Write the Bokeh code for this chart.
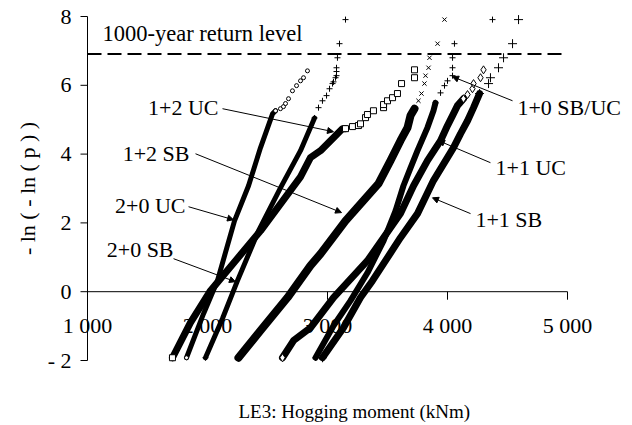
import math
from bokeh.plotting import figure
from bokeh.models import Range1d, Arrow, NormalHead, Label
from bokeh.embed import file_html
from bokeh.resources import INLINE

# ---------------- data ----------------
x_ticks = [1000, 2000, 3000, 4000, 5000]
x_tick_labels = ["1 000", "2 000", "3 000", "4 000", "5 000"]
y_ticks = [-2, 0, 2, 4, 6, 8]
y_tick_labels = ["- 2", "0", "2", "4", "6", "8"]
return_level_1000 = 6.907

# 2+0 UC (circles)
uc20_dense_x = [1825, 1967, 2083, 2225, 2342, 2442, 2542]
uc20_dense_y = [-1.92, -0.64, 0.32, 2.06, 3.08, 4.19, 5.17]
uc20_tail_x = [2567, 2608, 2633, 2650, 2675, 2708, 2742, 2775, 2800, 2833]
uc20_tail_y = [5.26, 5.32, 5.38, 5.47, 5.61, 5.84, 5.99, 6.13, 6.22, 6.42]

# 2+0 SB (small plus)
sb20_dense_x = [1983, 2125, 2250, 2425, 2608, 2775, 2858]
sb20_dense_y = [-1.92, -0.78, 0.32, 1.77, 3.02, 4.10, 4.77]
sb20_tail_x = [2892, 2925, 2958, 2992, 3017, 3042, 3050, 3067, 3075, 3075, 3075, 3083, 3100, 3150]
sb20_tail_y = [5.05, 5.35, 5.55, 5.70, 5.90, 6.05, 6.10, 6.22, 6.28, 6.40, 6.51, 6.80, 7.21, 7.91]

# 1+2 UC (squares)
uc12_dense_x = [1708, 1858, 2025, 2442, 2775, 2858, 2942, 3025, 3083, 3125]
uc12_dense_y = [-1.92, -0.90, 0.03, 1.77, 3.34, 3.90, 4.10, 4.39, 4.59, 4.74]
uc12_tail_x = [3150, 3208, 3258, 3275, 3317, 3333, 3383, 3467, 3467, 3500, 3542, 3583, 3617, 3725, 3725]
uc12_tail_y = [4.74, 4.80, 4.83, 4.88, 5.06, 5.15, 5.26, 5.35, 5.44, 5.55, 5.64, 5.76, 6.05, 6.22, 6.45]

# 1+2 SB (x)
sb12_dense_x = [2258, 2442, 2667, 2858, 2942, 3150, 3425, 3525, 3608, 3667, 3692]
sb12_dense_y = [-1.92, -1.13, -0.17, 0.76, 1.10, 2.06, 3.14, 3.81, 4.39, 4.77, 5.12]
sb12_tail_x = [3725, 3758, 3783, 3808, 3817, 3842, 3850, 3917, 3975]
sb12_tail_y = [5.32, 5.55, 5.76, 6.05, 6.28, 6.51, 6.80, 7.21, 7.91]

# 1+1 UC (diamonds)
uc11_dense_x = [2625, 2717, 2858, 3050, 3333, 3467, 3608, 3717, 3833, 3942, 4000, 4042, 4083]
uc11_dense_y = [-1.92, -1.42, -1.05, -0.17, 0.90, 1.57, 2.27, 3.08, 3.81, 4.39, 4.83, 5.12, 5.41]
uc11_tail_x = [4133, 4167, 4208, 4217, 4275, 4300]
uc11_tail_y = [5.61, 5.73, 5.90, 6.05, 6.22, 6.45]

# 1+0 SB/UC (small plus)
s10_dense_x = [2900, 3050, 3192, 3333, 3467, 3567, 3633, 3692, 3750, 3833, 3883]
s10_dense_y = [-1.92, -0.99, -0.26, 0.55, 1.48, 2.35, 3.08, 3.60, 4.10, 4.77, 5.26]
s10_tail_x = [3900, 3942, 3975, 4000, 4042, 4042, 4042, 4058, 4375]
s10_tail_y = [5.49, 5.78, 5.99, 6.13, 6.28, 6.51, 6.80, 7.21, 7.91]

# 1+1 SB (large plus)
sb11_dense_x = [2958, 3133, 3275, 3375, 3500, 3608, 3750, 3883, 4050, 4108, 4167, 4217]
sb11_dense_y = [-1.92, -1.05, -0.17, 0.32, 0.99, 1.57, 2.27, 3.23, 4.19, 4.59, 4.97, 5.35]
sb11_tail_x = [4267, 4342, 4358, 4425, 4467, 4542, 4592]
sb11_tail_y = [5.76, 6.05, 6.22, 6.51, 6.80, 7.21, 7.91]

# annotation labels: text, label anchor, leader start, arrow tip, alignment
label_texts = ["1+2 UC", "1+2 SB", "2+0 UC", "2+0 SB", "1+0 SB/UC", "1+1 UC", "1+1 SB"]
label_pos = [(2092, 5.35), (1850, 4.01), (1817, 2.50), (1717, 1.22), (4583, 5.35), (4400, 3.60), (4233, 2.09)]
leader_start = [(2125, 5.32), (1900, 4.01), (1842, 2.47), (1717, 0.96), (4542, 5.55), (4358, 3.75), (4192, 2.27)]
leader_end = [(3050, 4.65), (3117, 2.30), (2217, 2.09), (2233, 0.29), (4042, 6.25), (3925, 4.39), (3875, 2.73)]
label_align = ["right", "right", "right", "right", "left", "left", "left"]

# ---------------- layout geometry (pixels) ----------------
W, H = 632, 425
AX_LEFT, AX_RIGHT = 87, 567      # pixel of x = 1000 / 5000
AX_TOP, AX_BOTTOM = 16, 360      # pixel of y = 8 / -2
xmin, xmax = x_ticks[0], x_ticks[-1]
ymin, ymax = y_ticks[0], y_ticks[-1]
ppx = (AX_RIGHT - AX_LEFT) / (xmax - xmin)
ppy = (AX_BOTTOM - AX_TOP) / (ymax - ymin)
xr = Range1d(xmin - AX_LEFT / ppx, xmax + (W - AX_RIGHT) / ppx)
yr = Range1d(ymin - (H - AX_BOTTOM) / ppy, ymax + AX_TOP / ppy)

FONT = "Liberation Serif"
p = figure(width=W, height=H, x_range=xr, y_range=yr,
           x_axis_type=None, y_axis_type=None,
           output_backend="svg", toolbar_location=None,
           min_border_left=0, min_border_right=0, min_border_top=0, min_border_bottom=0)
p.outline_line_color = None
p.grid.visible = False

# ---------------- axes drawn by hand ----------------
# y axis
p.segment(x0=[xmin], y0=[ymin], x1=[xmin], y1=[ymax], line_color="black", line_width=1)
p.ray(x=[xmin] * len(y_ticks), y=y_ticks, length=7, length_units="screen", angle=math.pi,
      line_color="black", line_width=1)
p.text(x=[xmin] * len(y_ticks), y=y_ticks, text=y_tick_labels, x_offset=-16,
       text_align="right", text_baseline="middle", text_font={"value": FONT},
       text_font_size="22px", text_color="black")
# x axis at y = 0
p.segment(x0=[xmin], y0=[0], x1=[xmax], y1=[0], line_color="black", line_width=1)
p.ray(x=x_ticks, y=[0] * len(x_ticks), length=8, length_units="screen", angle=-math.pi / 2,
      line_color="black", line_width=1)
p.text(x=x_ticks, y=[0] * len(x_ticks), text=x_tick_labels, y_offset=34,
       text_align="center", text_baseline="middle", text_font={"value": FONT},
       text_font_size="22px", text_color="black")

# axis titles
p.add_layout(Label(x=xmin - 60 / ppx, y=(ymin + ymax) / 2, text="- ln ( - ln ( p ) )",
                   angle=math.pi / 2, text_align="center", text_baseline="middle",
                   text_font=FONT, text_font_size="22px", text_color="black"))
p.add_layout(Label(x=xmin + 151 / ppx, y=ymin - 51 / ppy, text="LE3: Hogging moment (kNm)",
                   text_align="left", text_baseline="middle",
                   text_font=FONT, text_font_size="19px", text_color="black"))

# ---------------- data series ----------------
series = [
    (uc20_dense_x, uc20_dense_y, uc20_tail_x, uc20_tail_y, "circle", 4, 5),
    (sb20_dense_x, sb20_dense_y, sb20_tail_x, sb20_tail_y, "cross", 6, 5),
    (uc12_dense_x, uc12_dense_y, uc12_tail_x, uc12_tail_y, "square", 6, 7),
    (sb12_dense_x, sb12_dense_y, sb12_tail_x, sb12_tail_y, "x", 6, 8),
    (uc11_dense_x, uc11_dense_y, uc11_tail_x, uc11_tail_y, "diamond", 8, 7),
    (s10_dense_x, s10_dense_y, s10_tail_x, s10_tail_y, "cross", 6, 6),
    (sb11_dense_x, sb11_dense_y, sb11_tail_x, sb11_tail_y, "cross", 9, 7),
]
for dx, dy, tx, ty, marker, msize, lw in series:
    p.line(dx + tx[:1], dy + ty[:1], line_width=lw, line_color="black",
           line_join="round", line_cap="round")
    p.scatter(dx[:1] + tx, dy[:1] + ty, marker=marker, size=msize,
              fill_color="white", line_color="black", line_width=1)

# 1000-year return level
p.segment(x0=[xmin], y0=[return_level_1000], x1=[xmax], y1=[return_level_1000],
          line_color="black", line_width=2, line_dash="14 6")
p.add_layout(Label(x=xmin + 15 / ppx, y=7.50, text="1000-year return level", text_baseline="middle",
                   text_font=FONT, text_font_size="22.5px", text_color="black"))

for t, (lx, ly), (sx, sy), (ex, ey), al in zip(label_texts, label_pos, leader_start, leader_end, label_align):
    p.add_layout(Label(x=lx, y=ly, text=t, text_align=al, text_baseline="middle",
                       text_font=FONT, text_font_size="22px", text_color="black"))
    p.add_layout(Arrow(x_start=sx, y_start=sy, x_end=ex, y_end=ey, line_width=1, line_color="black",
                       end=NormalHead(size=6, fill_color="black", line_color="black")))

open("out.html", "w").write(file_html(p, INLINE))
